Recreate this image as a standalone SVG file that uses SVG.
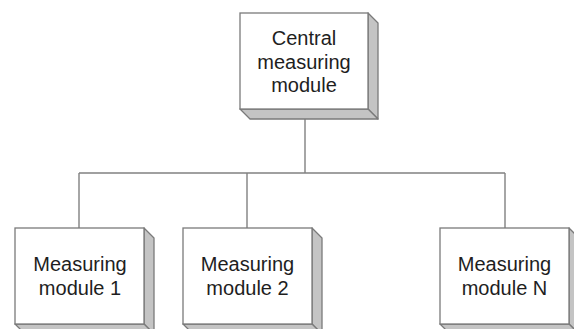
<svg xmlns="http://www.w3.org/2000/svg" width="574" height="329" viewBox="0 0 574 329">
<style>
.front{fill:#ffffff;stroke:#7a7a7a;stroke-width:1.3}
.side{fill:#c4c4c4;stroke:#7a7a7a;stroke-width:1.3;stroke-linejoin:round}
.lbl{font-family:"Liberation Sans",Arial,sans-serif;font-size:20px;fill:#1e1e1e;text-anchor:middle}
.conn{fill:none;stroke:#808080;stroke-width:1.4}
</style>
<rect width="574" height="329" fill="#ffffff"/>
<g id="connectors">
<path class="conn" d="M305,119 V173"/>
<path class="conn" d="M79,173 H505"/>
<path class="conn" d="M79,173 V228"/>
<path class="conn" d="M247,173 V228"/>
<path class="conn" d="M505,173 V228"/>
</g>
<g id="central">
<polygon class="side" points="368,13 378,23 378,119 368,109"/>
<polygon class="side" points="240,109 368,109 378,119 250,119"/>
<rect class="front" x="240" y="13" width="128" height="96"/>
<text class="lbl" x="304" y="45">Central</text>
<text class="lbl" x="304" y="68.5">measuring</text>
<text class="lbl" x="304" y="92">module</text>
</g>
<g id="module1">
<polygon class="side" points="144,228 154,238 154,334 144,324"/>
<polygon class="side" points="15,324 144,324 154,334 25,334"/>
<rect class="front" x="15" y="228" width="129" height="96"/>
<text class="lbl" x="80" y="271">Measuring</text>
<text class="lbl" x="80" y="295">module 1</text>
</g>
<g id="module2">
<polygon class="side" points="312,228 322,238 322,334 312,324"/>
<polygon class="side" points="183,324 312,324 322,334 193,334"/>
<rect class="front" x="183" y="228" width="129" height="96"/>
<text class="lbl" x="247.5" y="271">Measuring</text>
<text class="lbl" x="247.5" y="295">module 2</text>
</g>
<g id="moduleN">
<polygon class="side" points="569,228 579,238 579,334 569,324"/>
<polygon class="side" points="440,324 569,324 579,334 450,334"/>
<rect class="front" x="440" y="228" width="129" height="96"/>
<text class="lbl" x="504.5" y="271">Measuring</text>
<text class="lbl" x="504.5" y="295">module N</text>
</g>
</svg>
